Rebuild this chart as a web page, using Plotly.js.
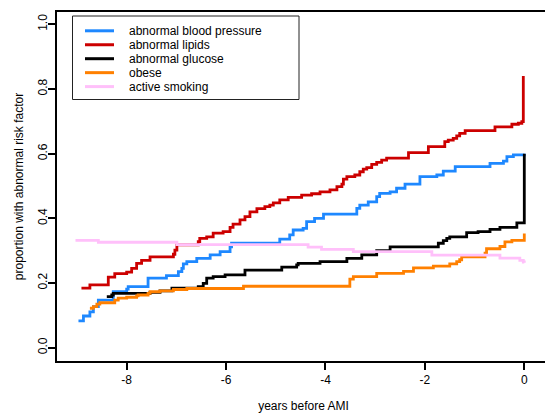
<!DOCTYPE html>
<html><head><meta charset="utf-8">
<script src="https://cdn.plot.ly/plotly-3.0.1.min.js"></script>
<style>html,body{margin:0;padding:0;overflow:hidden;background:#fff}#chart{width:552px;height:413px}</style>
</head><body><div id="chart"></div>
<script>
const seriesNames = ["abnormal blood pressure", "abnormal lipids", "abnormal glucose", "obese", "active smoking"];
const seriesColors = ["#1E88FF", "#CC0000", "#000000", "#FF8000", "#FFC0FA"];

const bpYears = [-8.97,-8.87,-8.74,-8.67,-8.57,-8.27,-8.00,-7.97,-7.57,-7.20,-6.96,-6.89,-6.86,-6.79,-6.59,-6.32,-6.12,-5.92,-5.89,-4.92,-4.72,-4.65,-4.45,-4.38,-4.22,-4.04,-3.37,-3.31,-3.14,-2.97,-2.91,-2.70,-2.57,-2.40,-2.10,-1.76,-1.63,-1.39,-0.69,-0.42,-0.35,-0.22,0];
const bpValues = [.083,.098,.111,.127,.147,.173,.181,.189,.215,.223,.235,.245,.259,.266,.276,.287,.297,.312,.323,.336,.349,.364,.369,.390,.400,.413,.431,.441,.451,.467,.477,.482,.493,.506,.529,.534,.546,.560,.570,.577,.591,.596,.600];

const lipidYears = [-8.91,-8.74,-8.37,-8.24,-8.00,-7.90,-7.80,-7.70,-7.53,-7.06,-7.03,-6.99,-6.56,-6.53,-6.39,-6.26,-6.06,-5.92,-5.86,-5.72,-5.62,-5.52,-5.38,-5.22,-5.12,-5.05,-4.92,-4.75,-4.48,-4.28,-4.11,-3.91,-3.77,-3.67,-3.64,-3.57,-3.41,-3.31,-3.24,-3.17,-3.07,-2.97,-2.87,-2.77,-2.33,-1.93,-1.60,-1.53,-1.43,-1.36,-1.30,-1.19,-0.59,-0.25,-0.12,-0.05,-0.02];
const lipidValues = [.184,.194,.218,.229,.234,.245,.261,.270,.281,.289,.302,.318,.328,.338,.343,.354,.359,.372,.382,.395,.405,.420,.430,.436,.441,.448,.457,.465,.472,.476,.482,.488,.498,.506,.521,.529,.534,.544,.552,.557,.567,.573,.580,.586,.603,.622,.637,.642,.647,.655,.663,.671,.683,.691,.694,.699,.840];

const glucoseYears = [-8.40,-8.30,-8.27,-7.53,-7.33,-7.09,-6.56,-6.46,-6.39,-6.26,-6.02,-5.62,-4.88,-4.58,-4.55,-4.11,-3.57,-3.27,-2.97,-2.70,-1.73,-1.63,-1.56,-1.50,-1.16,-0.93,-0.69,-0.49,-0.15,0];
const glucoseValues = [.158,.163,.168,.171,.176,.184,.189,.199,.215,.220,.225,.240,.249,.256,.261,.266,.276,.287,.300,.312,.323,.331,.338,.343,.356,.359,.366,.372,.386,.600];

const obeseYears = [-8.74,-8.67,-8.60,-8.54,-8.24,-8.17,-8.00,-7.80,-7.77,-7.57,-7.53,-7.33,-7.06,-6.79,-5.65,-3.51,-3.44,-2.97,-2.43,-2.23,-1.83,-1.50,-1.36,-1.30,-1.26,-0.79,-0.76,-0.49,-0.39,-0.25,0];
const obeseValues = [.122,.127,.135,.139,.147,.153,.156,.160,.163,.168,.173,.176,.180,.183,.190,.212,.220,.230,.236,.247,.252,.259,.266,.272,.281,.292,.306,.313,.327,.332,.353];

const smokingYears = [-9.03,-8.57,-6.99,-4.35,-4.08,-3.44,-1.86,-0.49,-0.09,-0.02,0];
const smokingValues = [.332,.326,.319,.311,.304,.297,.286,.277,.270,.265,.263];

const xTickVals = [-8,-6,-4,-2,0];
const xTickText = ["-8","-6","-4","-2","0"];
const yTickVals = [0,0.2,0.4,0.6,0.8,1.0];
const yTickText = ["0.0","0.2","0.4","0.6","0.8","1.0"];

const allYears = [bpYears, lipidYears, glucoseYears, obeseYears, smokingYears];
const allValues = [bpValues, lipidValues, glucoseValues, obeseValues, smokingValues];

const FONT = "Liberation Sans, Arial, Helvetica, sans-serif";
const traces = allYears.map((xs, i) => ({
  type: "scatter", mode: "lines", x: xs, y: allValues[i], name: seriesNames[i],
  line: {shape: "hv", color: seriesColors[i], width: 2.8}, showlegend: false, hoverinfo: "skip"
}));

// Manual legend (pixel layout -> paper coords)
const W = 552, H = 413, ML = 57, MR = 2, MT = 12, MB = 52;
const pw = W - ML - MR, ph = H - MT - MB;
const px = v => (v - ML) / pw;
const py = v => (H - MB - v) / ph;
const shapes = [{type: "rect", xref: "paper", yref: "paper", x0: px(72.5), x1: px(299), y0: py(99.5), y1: py(16), line: {color: "#222", width: 1}, fillcolor: "#fff", layer: "above"}];
const annotations = [];
seriesNames.forEach((nm, i) => {
  const yy = 30.8 + i * 13.95;
  shapes.push({type: "line", xref: "paper", yref: "paper", x0: px(85), x1: px(114), y0: py(yy), y1: py(yy), line: {color: seriesColors[i], width: 3}, layer: "above"});
  annotations.push({xref: "paper", yref: "paper", x: px(127), y: py(yy), text: nm, showarrow: false, xanchor: "left", yanchor: "middle", font: {family: FONT, size: 12, color: "#000"}});
});

const layout = {
  width: W, height: H,
  margin: {l: ML, r: MR, t: MT, b: MB, pad: 0},
  paper_bgcolor: "#fff", plot_bgcolor: "#fff",
  font: {family: FONT, size: 12, color: "#000"},
  xaxis: {range: [-9.402, 0.517], tickvals: xTickVals, ticktext: xTickText, ticks: "outside", ticklen: 7, tickwidth: 2, tickcolor: "#000",
    showline: true, linewidth: 2, linecolor: "#000", mirror: true, showgrid: false, zeroline: false,
    tickfont: {family: FONT, size: 12}, title: {text: "years before AMI", font: {family: FONT, size: 12}, standoff: 21}},
  yaxis: {range: [-0.0411, 1.038], tickvals: yTickVals, ticktext: yTickText, ticks: "outside", ticklen: 7, tickwidth: 2, tickcolor: "#000",
    showline: true, linewidth: 2, linecolor: "#000", mirror: true, showgrid: false, zeroline: false, tickangle: -90, ticklabelstandoff: -4,
    tickfont: {family: FONT, size: 12}, title: {text: "proportion with abnormal risk factor", font: {family: FONT, size: 12}, standoff: 10}},
  shapes: shapes, annotations: annotations
};
Plotly.newPlot("chart", traces, layout, {staticPlot: true, displayModeBar: false});
</script></body></html>
